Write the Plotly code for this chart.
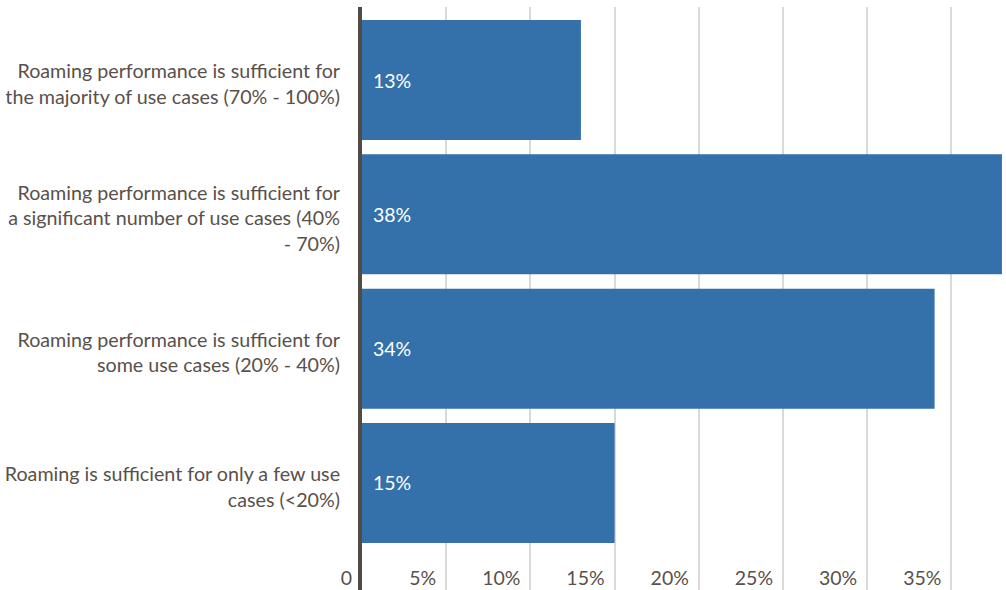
import plotly.graph_objects as go

categories = [
    "Roaming performance is sufficient for<br>the majority of use cases (70% - 100%)",
    "Roaming performance is sufficient for<br>a significant number of use cases (40%<br>- 70%)",
    "Roaming performance is sufficient for<br>some use cases (20% - 40%)",
    "Roaming is sufficient for only a few use<br>cases (<20%)",
]
values = [13, 38, 34, 15]
bar_labels = ["13%", "38%", "34%", "15%"]
tick_vals = [0, 5, 10, 15, 20, 25, 30, 35]
tick_text = ["0", "5%", "10%", "15%", "20%", "25%", "30%", "35%"]

TEXT = "#5a504b"
BAR = "#3471aa"
X_RANGE = [0, 38.24]

fig = go.Figure(
    go.Bar(
        x=values,
        y=categories,
        orientation="h",
        marker=dict(color=BAR, line=dict(width=0)),
        hoverinfo="skip",
    )
)

for cat, lab in zip(categories, bar_labels):
    fig.add_annotation(
        x=0, y=cat, text=lab, showarrow=False, xanchor="left", xshift=9,
        font=dict(family="Lato", size=19.5, color="white"),
    )

# invisible trace to activate the label axis
fig.add_trace(go.Scatter(x=[0], y=[categories[0]], xaxis="x2", mode="markers",
                         marker=dict(opacity=0), hoverinfo="skip", showlegend=False))

fig.update_layout(
    width=1006,
    height=590,
    margin=dict(l=362, r=0, t=7, b=0),
    plot_bgcolor="white",
    paper_bgcolor="white",
    bargap=0.107,
    showlegend=False,
    font=dict(family="Lato", color=TEXT, size=20),
    xaxis=dict(
        range=X_RANGE,
        tickvals=tick_vals,
        showticklabels=False,
        showgrid=True,
        gridcolor="#d9d9d9",
        gridwidth=2,
        zeroline=False,
        showline=False,
        ticks="",
    ),
    xaxis2=dict(
        overlaying="x",
        anchor="free",
        position=0.044,
        side="bottom",
        range=X_RANGE,
        tickvals=tick_vals,
        ticktext=tick_text,
        ticklabelposition="outside left",
        ticklabelshift=-10,
        showgrid=False,
        zeroline=False,
        showline=False,
        ticks="",
        tickfont=dict(family="Lato", size=19.5, color=TEXT),
    ),
    yaxis=dict(
        categoryorder="array",
        categoryarray=categories,
        range=[3.7966, -0.5434],
        showgrid=False,
        zeroline=False,
        showline=True,
        linecolor="#524a44",
        linewidth=4,
        ticks="",
        ticklabelstandoff=14,
        ticklabelshift=-4,
        tickfont=dict(family="Lato", size=19.7, color=TEXT),
    ),
)

fig.write_html("out.html")
